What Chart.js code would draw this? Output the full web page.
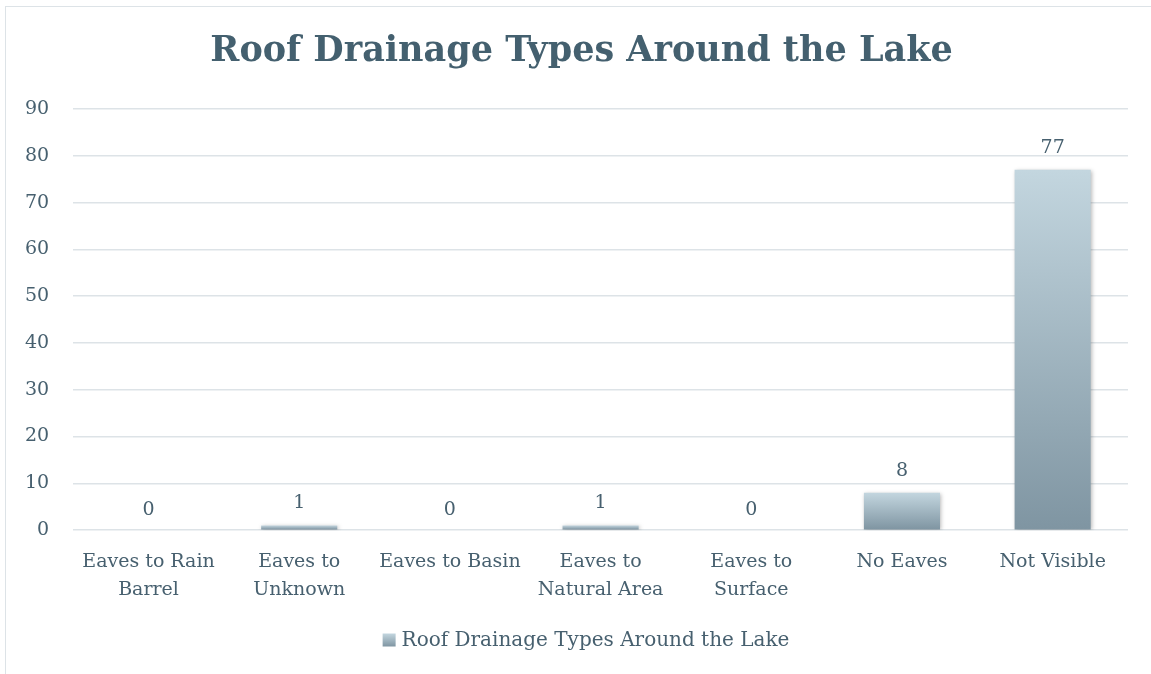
<!DOCTYPE html>
<html>
<head>
<meta charset="utf-8">
<script src="https://cdn.jsdelivr.net/npm/chart.js@4"></script>
<style>
  html, body { margin: 0; padding: 0; background: #fff; overflow: hidden; }
  #frame { position: absolute; left: 5px; top: 6px; width: 1160px; height: 680px; border: 1.5px solid #DDE3E7; box-sizing: border-box; }
  #wrap { position: absolute; left: 0; top: 0; width: 1151px; height: 674px; }
</style>
</head>
<body>
<div id="frame"></div>
<div id="wrap"><canvas id="grafico"></canvas></div>
<script>
var categorie = [
    ['Eaves to Rain', 'Barrel'],
    ['Eaves to', 'Unknown'],
    'Eaves to Basin',
    ['Eaves to', 'Natural Area'],
    ['Eaves to', 'Surface'],
    'No Eaves',
    'Not Visible'
];
var valori = [0, 1, 0, 1, 0, 8, 77];
var tickY = [0, 10, 20, 30, 40, 50, 60, 70, 80, 90];
var titolo = 'Roof Drainage Types Around the Lake';
var nomeSerie = 'Roof Drainage Types Around the Lake';

var coloreTesto = '#47606F';
var fontSerif = "'DejaVu Serif', 'Liberation Serif', serif";

function sfumatura(ctx, top, bottom) {
    if (bottom - top < 1) {
        bottom = top + 1;
    }
    var g = ctx.createLinearGradient(0, top, 0, bottom);
    g.addColorStop(0, '#C3D6DF');
    g.addColorStop(1, '#7F95A2');
    return g;
}

// ombra leggera e sfumatura propria per ogni barra
var stileBarre = {
    id: 'stileBarre',
    beforeDatasetDraw: function (chart) {
        var ctx = chart.ctx;
        var meta = chart.getDatasetMeta(0);
        for (var i = 0; i < meta.data.length; i++) {
            var bar = meta.data[i];
            bar.options.backgroundColor = sfumatura(ctx, Math.min(bar.y, bar.base), Math.max(bar.y, bar.base));
        }
        ctx.save();
        ctx.shadowColor = 'rgba(0,0,0,0.28)';
        ctx.shadowBlur = 4;
        ctx.shadowOffsetX = 1;
        ctx.shadowOffsetY = 1;
    },
    afterDatasetDraw: function (chart) {
        chart.ctx.restore();
    }
};

// etichette dei valori, titolo e legenda
var testi = {
    id: 'testi',
    afterDraw: function (chart) {
        var ctx = chart.ctx;
        var meta = chart.getDatasetMeta(0);
        ctx.save();
        ctx.fillStyle = coloreTesto;
        ctx.font = '19px ' + fontSerif;
        ctx.textAlign = 'center';
        ctx.textBaseline = 'alphabetic';
        for (var i = 0; i < meta.data.length; i++) {
            var bar = meta.data[i];
            var scarto = valori[i] === 0 ? 15 : 17;
            ctx.fillText(String(valori[i]), bar.x, bar.y - scarto);
        }

        // titolo
        ctx.fillStyle = '#44606F';
        ctx.font = 'bold 35px ' + fontSerif;
        ctx.textBaseline = 'middle';
        ctx.fillText(titolo, 581.5, 52);

        // legenda
        ctx.font = '20px ' + fontSerif;
        var w = ctx.measureText(nomeSerie).width;
        var tot = 13 + 6 + w;
        var x0 = 586 - tot / 2;
        var yc = 640;
        ctx.fillStyle = sfumatura(ctx, yc - 6.5, yc + 6.5);
        ctx.fillRect(x0, yc - 6.5, 13, 13);
        ctx.fillStyle = coloreTesto;
        ctx.textAlign = 'left';
        ctx.fillText(nomeSerie, x0 + 19, yc + 1);
        ctx.restore();
    }
};

var ctx = document.getElementById('grafico');
var chart = new Chart(ctx, {
    type: 'bar',
    data: {
        labels: categorie,
        datasets: [{
            label: nomeSerie,
            data: valori,
            backgroundColor: function () { return '#A3B5BF'; },
            borderWidth: 0,
            categoryPercentage: 1,
            barPercentage: 0.505
        }]
    },
    options: {
        responsive: true,
        maintainAspectRatio: false,
        animation: false,
        layout: {
            padding: { left: 1, right: 23, top: 109, bottom: 60 }
        },
        plugins: {
            title: { display: false },
            legend: { display: false },
            tooltip: { enabled: false }
        },
        scales: {
            x: {
                grid: { display: false },
                border: { display: false },
                ticks: {
                    color: coloreTesto,
                    font: { family: fontSerif, size: 19, lineHeight: 1.47 },
                    maxRotation: 0,
                    autoSkip: false,
                    padding: 10
                }
            },
            y: {
                min: 0,
                max: 90,
                afterBuildTicks: function (scale) {
                    scale.ticks = tickY.map(function (v) { return { value: v }; });
                },
                grid: { color: '#DDE3E7', lineWidth: 1.5, drawTicks: false },
                border: { display: false },
                ticks: {
                    color: coloreTesto,
                    font: { family: fontSerif, size: 19 },
                    padding: 24
                }
            }
        }
    },
    plugins: [stileBarre, testi]
});
</script>
</body>
</html>
